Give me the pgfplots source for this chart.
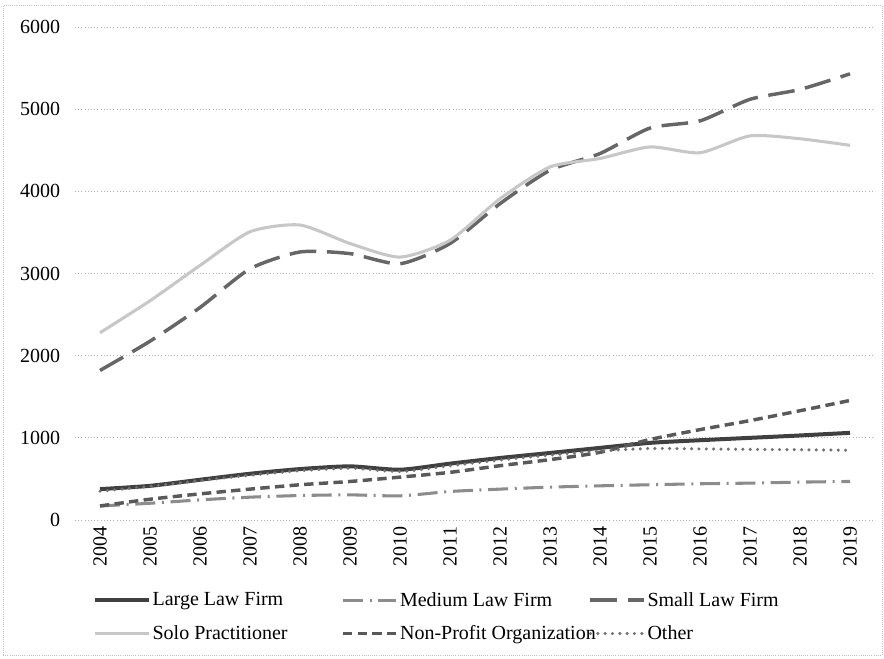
\documentclass[border=0pt]{standalone}
\usepackage{fontspec}
\setmainfont{Liberation Serif}
\usepackage{pgfplots}
\pgfplotsset{compat=1.18}
\begin{document}
\begin{tikzpicture}
\useasboundingbox (-56.25pt,-103.5pt) rectangle (606.75pt,390pt);
\draw[black!25, densely dotted, line width=0.6pt] (-54pt,-101.25pt) rectangle (605.25pt,386.25pt);
\begin{axis}[
  scale only axis, width=600pt, height=369.75pt,
  xmin=2003.5, xmax=2019.5, ymin=0, ymax=6000,
  xtick={2004,2005,...,2019}, ytick={0,1000,...,6000},
  axis line style={draw=none}, major tick length=0pt,
  ymajorgrids, grid style={black!30, dotted, line width=0.7pt},
  /pgf/number format/assume math mode=true,
  /pgf/number format/1000 sep={},
  tick label style={font=\fontsize{15}{18}\selectfont, black},
  yticklabel style={anchor=east, inner sep=0pt},
  yticklabel shift=11pt,
  xticklabel style={rotate=90, anchor=east, inner sep=0pt},
  xticklabel shift=5pt,
  legend columns=3,
  legend cell align=left,
  legend style={at={(0.0225,-0.142)}, anchor=north west, draw=none, fill=none,
    font=\fontsize{15}{18}\selectfont, inner sep=0pt, row sep=10pt,
    nodes={inner sep=1.5pt}},
  legend image code/.code={\draw[#1] (0pt,0pt) -- (40pt,0pt);},
]
% Large Law Firm
\addplot[black!75, line width=3pt, smooth, tension=0.4] coordinates {
(2004,376) (2005,416) (2006,490) (2007,563) (2008,620) (2009,653) (2010,612) (2011,686)
(2012,755) (2013,816) (2014,878) (2015,939) (2016,971) (2017,1000) (2018,1029) (2019,1061)};
\addlegendentry{\makebox[140pt][l]{Large Law Firm}}
% Medium Law Firm
\addplot[black!45, line width=2.3pt, smooth, tension=0.4, dash pattern=on 15pt off 5pt on 1.5pt off 5pt] coordinates {
(2004,171) (2005,204) (2006,245) (2007,278) (2008,298) (2009,306) (2010,294) (2011,347)
(2012,376) (2013,400) (2014,416) (2015,429) (2016,441) (2017,449) (2018,461) (2019,469)};
\addlegendentry{\makebox[140pt][l]{Medium Law Firm}}
% Small Law Firm
\addplot[black!60, line width=2.6pt, smooth, tension=0.4, dash pattern=on 20pt off 8pt] coordinates {
(2004,1820) (2005,2176) (2006,2586) (2007,3057) (2008,3262) (2009,3242) (2010,3119) (2011,3365)
(2012,3850) (2013,4256) (2014,4460) (2015,4770) (2016,4858) (2017,5120) (2018,5240) (2019,5430)};
\addlegendentry{Small Law Firm}
% Solo Practitioner
\addplot[black!22, line width=2.3pt, smooth, tension=0.4] coordinates {
(2004,2279) (2005,2668) (2006,3098) (2007,3508) (2008,3590) (2009,3365) (2010,3200) (2011,3405)
(2012,3910) (2013,4297) (2014,4400) (2015,4540) (2016,4470) (2017,4675) (2018,4640) (2019,4560)};
\addlegendentry{\makebox[140pt][l]{Solo Practitioner}}
% Non-Profit Organization
\addplot[black!65, line width=2.6pt, smooth, tension=0.4, dash pattern=on 7pt off 4pt] coordinates {
(2004,171) (2005,253) (2006,318) (2007,376) (2008,429) (2009,469) (2010,522) (2011,580)
(2012,661) (2013,735) (2014,824) (2015,980) (2016,1100) (2017,1210) (2018,1330) (2019,1455)};
\addlegendentry{\makebox[140pt][l]{Non-Profit Organization}}
% Other
\addplot[black!55, line width=2.6pt, smooth, tension=0.4, line cap=round, dash pattern=on 0pt off 5.5pt] coordinates {
(2004,350) (2005,410) (2006,480) (2007,545) (2008,600) (2009,630) (2010,590) (2011,660)
(2012,730) (2013,790) (2014,840) (2015,870) (2016,865) (2017,860) (2018,855) (2019,850)};
\addlegendentry{Other}
\end{axis}
\end{tikzpicture}
\end{document}
